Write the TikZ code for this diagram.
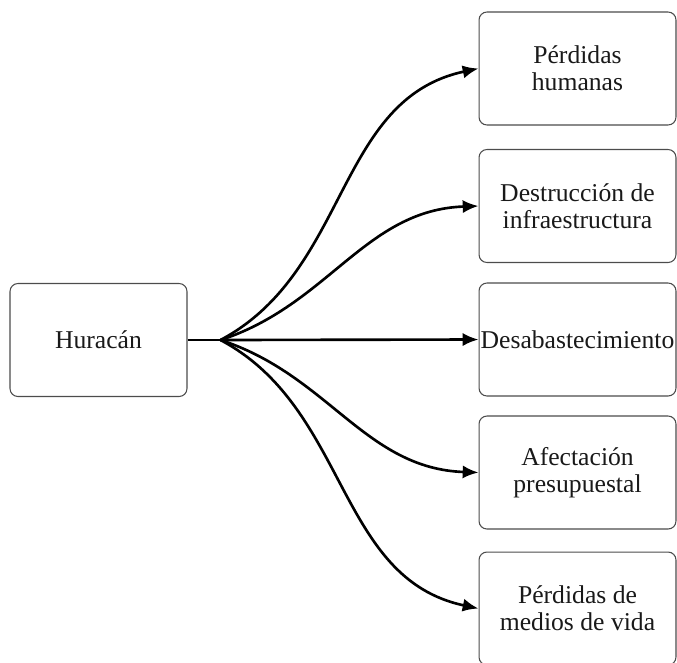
\documentclass[tikz,border=0pt]{standalone}
\usepackage{fontspec}
\setmainfont{Liberation Serif}
\usetikzlibrary{positioning,arrows.meta}
\begin{document}
\begin{tikzpicture}[>={Latex[length=9pt,width=7.5pt]},thick]
\def\ds{0.02}
\def\punkt#1#2{({(#1)*\ds},{(-#2)*\ds})}
\tikzset{
	kasten/.style={draw=black!70,line width=0.6pt,rounded corners=4.5pt,align=center,
		inner sep=0pt,font=\fontsize{14.6}{15.4}\selectfont,text=black!90},
	ursache/.style={kasten,minimum width=3.54cm,minimum height=2.26cm},
	folge/.style={kasten,minimum width=3.94cm,minimum height=2.26cm},
	pfeil/.style={-{Latex[length=9pt,width=7.5pt]},line width=1.5pt}
}
\useasboundingbox \punkt{0}{0} rectangle \punkt{677}{662};
\node[ursache] (hur) at \punkt{98.5}{340} {Huracán};
\node[folge] (f1) at \punkt{577.5}{68.5} {Pérdidas\\humanas};
\node[folge] (f2) at \punkt{577.5}{206} {Destrucción de\\infraestructura};
\node[folge] (f3) at \punkt{577.5}{339.5} {Desabastecimiento};
\node[folge] (f4) at \punkt{577.5}{472.5} {Afectación\\presupuestal};
\node[folge] (f5) at \punkt{577.5}{608.5} {Pérdidas de\\medios de vida};
\coordinate[right=0.66cm of hur.east] (fan);
\draw[line width=1.5pt] (hur.east) -- (fan);
\draw[pfeil] (fan) to[out=28,in=192] (f1.west);
\draw[pfeil] (fan) to[out=18,in=182] (f2.west);
\draw[pfeil] (fan) -- (f3.west);
\draw[pfeil] (fan) to[out=-18,in=178] (f4.west);
\draw[pfeil] (fan) to[out=-28,in=168] (f5.west);
\end{tikzpicture}
\end{document}
